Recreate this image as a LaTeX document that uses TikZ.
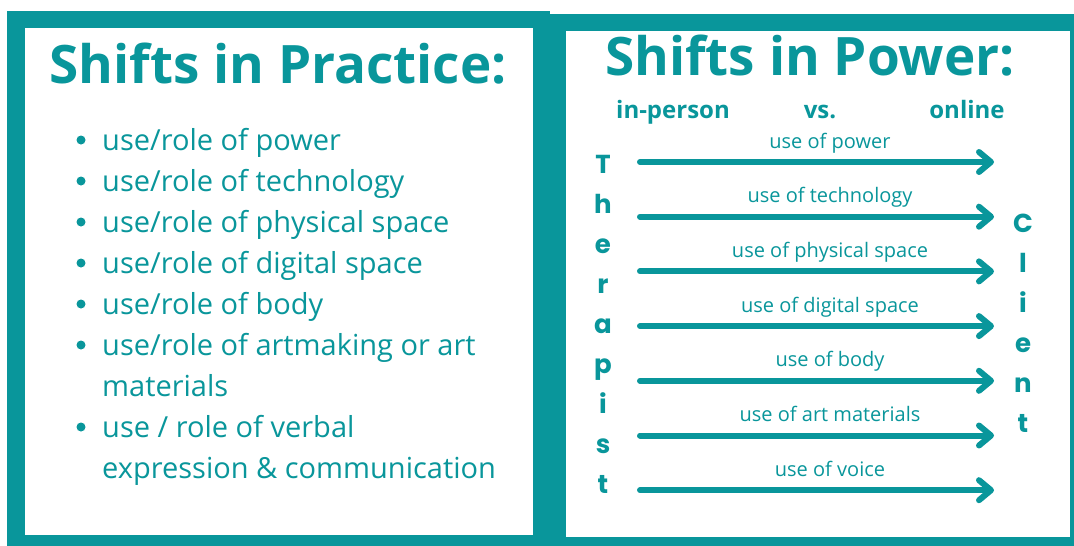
\documentclass[tikz,border=0pt]{standalone}
\usepackage{fontspec}
\setmainfont{Open Sans}
\newfontfamily\letterfont{Poppins}
\usetikzlibrary{arrows.meta,positioning}
\definecolor{shiftteal}{RGB}{9,150,155}
\tikzset{
  panel/.style={fill=shiftteal},
  sheet/.style={fill=white},
  heading/.style={text=shiftteal, inner sep=0pt, anchor=base},
  item/.style={text=shiftteal, font=\fontsize{29}{34}\selectfont, inner sep=0pt, anchor=base west},
  dot/.style={fill=shiftteal},
  side/.style={text=shiftteal, font=\letterfont\bfseries\fontsize{26}{28}\selectfont, inner sep=0pt, anchor=base},
  caption/.style={text=shiftteal, font=\fontsize{20}{22}\selectfont, inner sep=0pt, anchor=base},
  flow/.style={draw=shiftteal, line width=6pt, line cap=round,
    -{Straight Barb[length=12pt,width=20pt,line cap=round,line join=round]}},
}
\begin{document}
\begin{tikzpicture}[x=1pt,y=-1pt]
  \useasboundingbox (0,0) rectangle (1074,546);
  % frames
  \fill[panel] (7,11) rectangle (550,546);
  \fill[sheet] (25,28) rectangle (533,535);
  \fill[panel] (550,14) rectangle (1074,546);
  \fill[sheet] (566,31) rectangle (1070,537);

  % left panel
  \node[heading, font=\fontsize{53}{58}\selectfont\bfseries] (practice) at (278,83) {Shifts in Practice:};
  \foreach \txt [count=\i] in {use/role of power, use/role of technology,
      use/role of physical space, use/role of digital space, use/role of body,
      use/role of artmaking or art, materials, use / role of verbal,
      expression \& communication} {%
    \pgfmathsetmacro{\Y}{150+41*(\i-1)}
    \node[item] (line\i) at (102,\Y) {\txt};
  }
  \foreach \i in {1,2,3,4,5,6,8} {%
    \fill[dot] ([xshift=-21pt,yshift=10pt]line\i.base west) circle (4.5pt);
  }

  % right panel
  \node[heading, font=\fontsize{53}{58}\selectfont\bfseries] (power) at (810,75) {Shifts in Power:};
  \node[heading, font=\fontsize{24}{26}\selectfont\bfseries] (inperson) at (673,118) {in-person};
  \node[heading, font=\fontsize{24}{26}\selectfont\bfseries] (versus) at (820,118) {vs.};
  \node[heading, font=\fontsize{24}{26}\selectfont\bfseries] (online) at (967,118) {online};

  \foreach \ch [count=\i] in {T,h,e,r,a,p,i,s,t} {%
    \pgfmathsetmacro{\Y}{173+40*(\i-1)}
    \node[side] (therapist\i) at (603,\Y) {\ch};
  }
  \foreach \ch [count=\i] in {C,l,i,e,n,t} {%
    \pgfmathsetmacro{\Y}{232+40*(\i-1)}
    \node[side] (client\i) at (1023,\Y) {\ch};
  }

  \foreach \txt [count=\i] in {use of power, use of technology, use of physical space,
      use of digital space, use of body, use of art materials, use of voice} {%
    \pgfmathsetmacro{\Y}{162+54.7*(\i-1)}
    \coordinate (from\i) at (640,\Y);
    \coordinate (to\i) at (994,\Y);
    \node[caption] (use\i) at (830,\Y-14) {\txt};
    \draw[flow] (from\i) -- (to\i);
  }
\end{tikzpicture}
\end{document}
